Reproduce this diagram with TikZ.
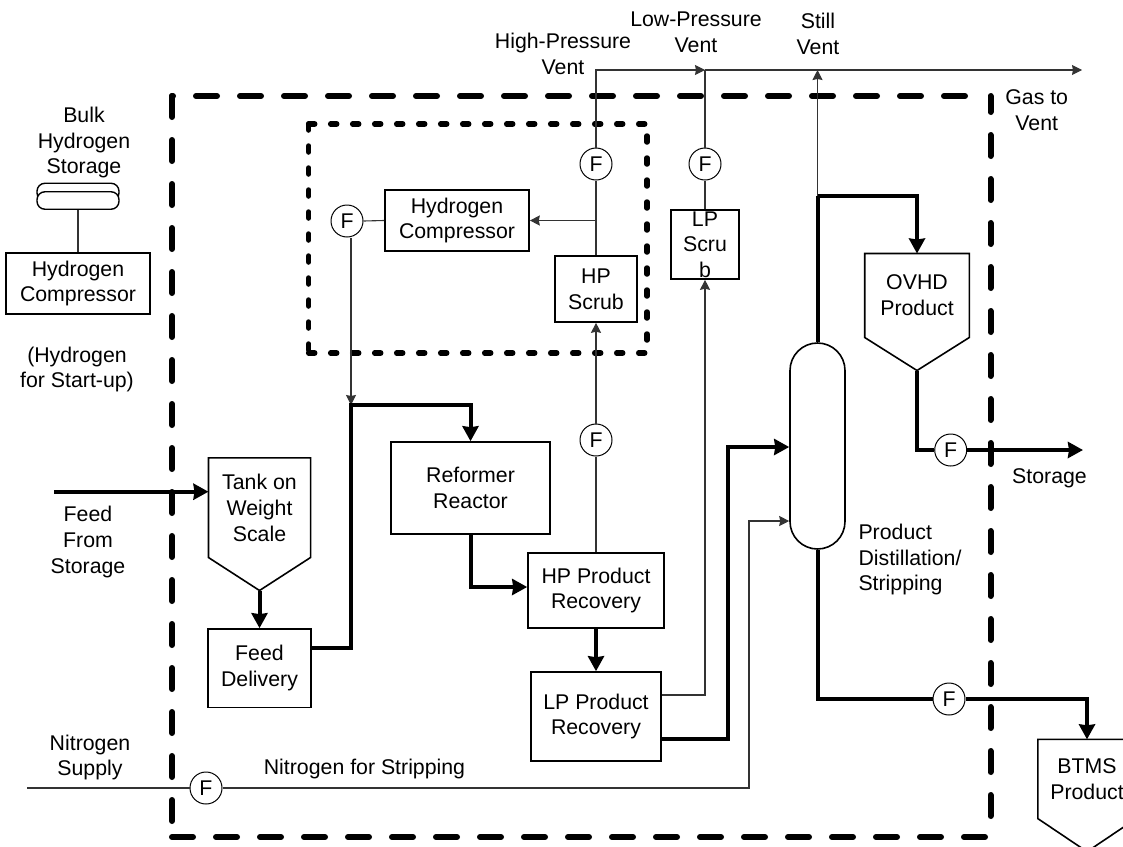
\documentclass[tikz,border=0pt]{standalone}
\usepackage{fontspec}
\setmainfont{Liberation Sans}
\usetikzlibrary{arrows.meta, positioning, calc}
\newcommand{\flowfont}{\fontsize{21.3}{25.7}\selectfont}

\begin{document}
\begin{tikzpicture}[x=1pt, y=-1pt,
  box/.style={draw, line width=1.6pt, align=center, inner sep=0pt, font=\flowfont},
  hopper/.style={box, draw=none},
  label/.style={align=center, inner sep=0pt, font=\flowfont},
  meter/.style={draw, circle, fill=white, line width=1pt, minimum size=32pt, inner sep=0pt, font=\flowfont},
  pill/.style={draw, fill=white, rectangle, rounded corners=8pt, line width=1.4pt, minimum width=82pt, minimum height=17.5pt, inner sep=0pt},
  thinline/.style={line width=1.1pt, black!80},
  thinarrow/.style={thinline, -{Stealth[length=10pt, width=10pt, inset=1pt]}},
  heavyline/.style={line width=4pt, line join=miter},
  heavyarrow/.style={heavyline, -{Stealth[length=15pt, width=16pt, inset=1pt]}},
  bigdash/.style={line width=6pt, line cap=round, dash pattern=on 21pt off 23pt},
  smalldash/.style={line width=5.5pt, line cap=round, dash pattern=on 6pt off 16pt}]
  \clip (0,0) rectangle (1123,846);
  % battery limits
  \draw[bigdash] (172,96) -- (172,837);
  \draw[bigdash] (172,837) -- (990.5,837);
  \draw[bigdash, dash phase=5pt] (990.5,96) -- (990.5,837);
  \draw[bigdash] (965,96) -- (172,96);
  \draw[smalldash] (308.7,124) -- (308.7,353);
  \draw[smalldash] (308.7,353) -- (647,353);
  \draw[smalldash] (647,136) -- (647,343);
  \draw[smalldash] (308.7,124) -- (645,124);
  % equipment
  \node[box, minimum width=144pt, minimum height=61pt] (startcomp) at (78,283.5) {Hydrogen\\Compressor};
  \node[pill] (diska) at (startcomp.north |- 0,192) {};
  \node[pill] (diskb) at (startcomp.north |- 0,200.5) {};
  \node[box, minimum width=144pt, minimum height=61pt] (h2comp) at (457,220.5) {Hydrogen\\Compressor};
  \node[box, minimum width=82pt, minimum height=66pt] (hpscrub) at (596,289) {HP\\Scrub};
  \node[box, minimum width=68pt, minimum height=69pt] (lpscrub) at (705,244.5) {LP\\Scru\\b};
  \node[hopper, minimum width=100.5pt, minimum height=98pt] (tank) at (259.5,507.7) {Tank on\\Weight\\Scale};
  \node[box, minimum width=103pt, minimum height=78.7pt] (feed) at (259.5,668.3) {Feed\\Delivery};
  \node[box, minimum width=159pt, minimum height=92pt] (reformer) at (470.5,488) {Reformer\\Reactor};
  \node[box, minimum width=136pt, minimum height=75pt] (hprec) at (596,590.5) {HP Product\\Recovery};
  \node[box, minimum width=130pt, minimum height=89pt] (lprec) at (596,716.5) {LP Product\\Recovery};
  \node[draw, rectangle, rounded corners=27.5pt, line width=1.6pt, minimum width=55pt, minimum height=206pt] (column) at (817.5,446) {};
  \node[hopper, minimum width=103pt, minimum height=82.4pt] (ovhd) at (917,295.5) {OVHD\\Product};
  \node[hopper, minimum width=96.6pt, minimum height=77.7pt] (btms) at (1087,779) {BTMS\\Product};
  \foreach \n in {tank,ovhd,btms} {
    \coordinate (\n tip) at ([yshift=-33pt]\n.south);
    \draw[line width=1.6pt] (\n.north west) -- (\n.north east) -- (\n.south east)
      -- (\n tip) -- (\n.south west) -- cycle;
  }
  \node[meter] (fhpvent) at (596,164) {F};
  \node[meter] (flpvent) at (705,164) {F};
  \node[meter] (fh2) at (347,221) {F};
  \node[meter] (fhp) at (596,440) {F};
  \node[meter] (fn2) at (206,788) {F};
  \node[meter] (fovhd) at (950.7,450) {F};
  \node[meter] (fbtms) at (949,699) {F};
  % free ends and corners
  \coordinate (ventend) at (1082,70);
  \coordinate (ventlow) at (705,70);
  \coordinate (feedin) at (54,491.7);
  \coordinate (storageend) at (1083,450);
  \coordinate (nsupply) at (27,788);
  \coordinate (hydrojoin) at (351,405);
  \coordinate (ovhdsplit) at (column.north |- 0,196);
  % thin streams
  \draw[thinline] (diskb.south) -- (startcomp.north);
  \draw[thinline] (hprec.north) -- (fhp.south);
  \draw[thinarrow] (fhp.north) -- (hpscrub.south);
  \draw[thinline] (hpscrub.north) -- (fhpvent.south);
  \draw[thinarrow] (fhpvent.north) |- (ventlow);
  \draw[thinarrow] (ventlow) -- (ventend);
  \draw[thinline] (lpscrub.north) -- (flpvent.south);
  \draw[thinline] (flpvent.north) -- (ventlow);
  \draw[thinarrow] (lprec.east |- 0,695) -| (lpscrub.south);
  \draw[thinarrow] (hpscrub.north |- h2comp.east) -- (h2comp.east);
  \draw[thinline] (h2comp.west) -- (fh2.east);
  \draw[thinarrow] ([xshift=4pt]fh2.south) -- (hydrojoin);
  \draw[thinarrow] (ovhdsplit) -- (column.north |- ventend);
  \draw[thinline] (nsupply) -- (fn2.west);
  \draw[thinarrow] (fn2.east) -| (749,521) -- (column.west |- 0,521);
  % heavy streams
  \draw[heavyarrow] (feedin) -- (tank.west |- feedin);
  \draw[heavyarrow] (tanktip) -- (feed.north);
  \draw[heavyarrow] (feed.east |- 0,648) -| (hydrojoin) -| (reformer.north);
  \draw[heavyarrow] (reformer.south) |- (hprec.west |- 0,587);
  \draw[heavyarrow] (hprec.south) -- (lprec.north);
  \draw[heavyarrow] (lprec.east |- 0,739) -| (727.7,447) -- (column.west |- 0,447);
  \draw[heavyline] (column.north) -- (ovhdsplit);
  \draw[heavyarrow] (ovhdsplit) -| (ovhd.north);
  \draw[heavyline] (ovhdtip) |- (fovhd.west);
  \draw[heavyarrow] (fovhd.east) -- (storageend);
  \draw[heavyline] (column.south) |- (fbtms.west);
  \draw[heavyarrow] (fbtms.east) -| (btms.north);
  % texts
  \node[label] (bulk) at (84,142.5) {Bulk\\Hydrogen\\Storage};
  \node[label] (startup) at (77,369.5) {(Hydrogen\\for Start-up)};
  \node[label] (feedtext) at (88,542) {Feed\\From\\Storage};
  \node[label] (ntext) at (90,757.5) {Nitrogen\\Supply};
  \node[label] (stripping) at (364.5,768.5) {Nitrogen for Stripping};
  \node[label] (hptext) at (563,54) {High-Pressure\\Vent};
  \node[label] (lptext) at (696,32.5) {Low-Pressure\\Vent};
  \node[label] (stilltext) at (818,34) {Still\\Vent};
  \node[label] (gastext) at (1036.7,110.5) {Gas to\\Vent};
  \node[label] (storagetext) at (1049.5,478.5) {Storage};
  \node[label, align=left] (disttext) at (910,559.5) {Product\\Distillation/\\Stripping};
\end{tikzpicture}
\end{document}
